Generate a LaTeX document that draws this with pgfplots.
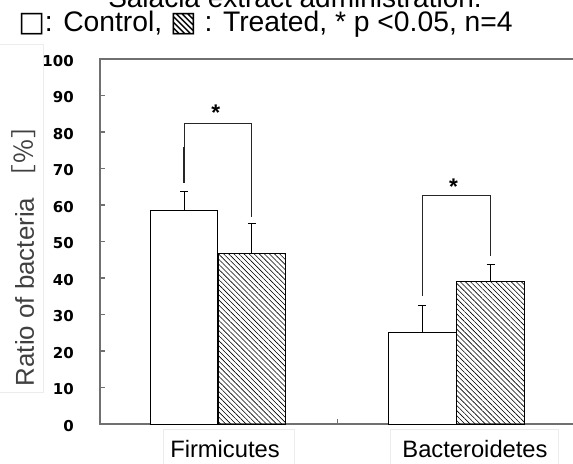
\documentclass[border=0pt]{standalone}
\usepackage{pgfplots}
\pgfplotsset{compat=1.18}
\usetikzlibrary{patterns.meta}
\usepackage{fontspec}
\setmainfont{Liberation Sans}
\newfontfamily\dejavu{DejaVu Sans}
\newfontfamily\cjk{Noto Sans CJK JP}
\definecolor{axisgray}{HTML}{707070}
\definecolor{boxgray}{HTML}{ECECEC}

\begin{document}
\begin{tikzpicture}
\begin{scope}[x=0.75pt, y=-0.75pt]
% title (two lines, the first one partly above the page)
\node[anchor=base, font=\fontsize{21}{24}\selectfont] at (295,7.5) {Salacia extract administration.};
\node[anchor=base west, font=\fontsize{21.2}{24}\selectfont, inner sep=0pt] at (18,31.5)
  {{\dejavu □}: Control, {\dejavu ▧} : Treated, * p {<}0.05, n=4};

% y label frame and text
\draw[boxgray, line width=0.75pt] (-2,45) rectangle (43,392);
\node[rotate=90, font=\fontsize{19.4}{21}\selectfont, text=black!75] at (24,249.5)
  {Ratio of bacteria {\cjk［％］}};

% category label frames
\draw[boxgray, line width=0.75pt] (163,429) rectangle (294,475);
\draw[boxgray, line width=0.75pt] (390,429) rectangle (558,475);
\node[anchor=base, font=\fontsize{17.8}{20}\selectfont, inner sep=0pt] at (225,457) {Firmicutes};
\node[anchor=base, font=\fontsize{17.8}{20}\selectfont, inner sep=0pt] at (475,457) {Bacteroidetes};
\end{scope}

\begin{axis}[
  at={(75pt,-318pt)}, anchor=south west,
  scale only axis, width=355.9pt, height=273.75pt,
  xmin=0, xmax=2, ymin=0, ymax=100,
  axis line style={draw=axisgray, line width=1.5pt},
  tick align=inside, tick pos=left,
  major tick length=3.5pt,
  tick style={draw=axisgray, line width=1pt},
  xtick={1}, xticklabels={},
  ytick={0,10,...,100},
  /pgf/number format/assume math mode=true,
  yticklabel style={anchor=east, inner sep=0pt, xshift=-19.5pt, yshift=-1.5pt,
    font=\dejavu\bfseries\fontsize{11.25}{13}\selectfont},
  clip=false,
]
% control bars
\addplot[ybar, bar shift=0pt, bar width=50.6pt, draw=black, fill=white, line width=0.75pt,
  error bars/.cd, y dir=plus, y explicit,
  error bar style={line width=0.75pt, black},
  error mark options={rotate=90, mark size=3pt, line width=0.75pt, black}]
  coordinates {(0.355,58.4) +- (0,5.2) (1.359,25.2) +- (0,7.4)};
% treated bars
\addplot[ybar, bar shift=0pt, bar width=50.6pt, draw=black, line width=0.75pt,
  pattern={Lines[angle=-45, distance=2.7pt, line width=0.45pt]}, pattern color=black,
  error bars/.cd, y dir=plus, y explicit,
  error bar style={line width=0.75pt, black},
  error mark options={rotate=90, mark size=3pt, line width=0.75pt, black}]
  coordinates {(0.640,46.8) +- (0,8.2) (1.646,39.0) +- (0,4.6)};
% significance brackets
\addplot[black!85, line width=0.75pt, mark=none] coordinates
  {(0.355,66.1) (0.355,82.4) (0.640,82.4) (0.640,56.6)};
\addplot[black!85, line width=1.6pt, mark=none] coordinates
  {(0.355,66.1) (0.355,76.0)};
\addplot[black!85, line width=0.75pt, mark=none] coordinates
  {(1.359,35.2) (1.359,62.5) (1.646,62.5) (1.646,46.0)};
\node[font=\bfseries\fontsize{17}{17}\selectfont] at (axis cs:0.488,85.2) {*};
\node[font=\bfseries\fontsize{17}{17}\selectfont] at (axis cs:1.490,65.0) {*};
\end{axis}

\pgfresetboundingbox
\path[use as bounding box] (0,0) rectangle (429.75pt,-347.25pt);
\end{tikzpicture}
\end{document}
